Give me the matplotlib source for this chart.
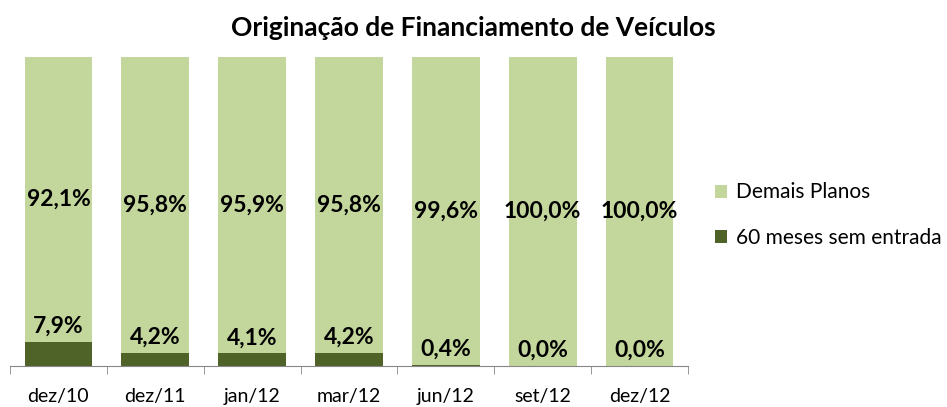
import matplotlib.pyplot as plt
import numpy as np

plt.rcParams['font.family'] = ['Lato', 'DejaVu Sans']

periodos = ["dez/10", "dez/11", "jan/12", "mar/12", "jun/12", "set/12", "dez/12"]
sem_entrada = [7.9, 4.2, 4.1, 4.2, 0.4, 0.0, 0.0]
demais = [92.1, 95.8, 95.9, 95.8, 99.6, 100.0, 100.0]

cor_demais = "#C3D69B"
cor_sem = "#4F6228"

fig = plt.figure(figsize=(9.47, 4.07), dpi=100)
ax = fig.add_axes([10 / 947, 41 / 407, 678 / 947, 309 / 407])

x = np.arange(len(periodos))
ax.bar(x, sem_entrada, width=0.7, color=cor_sem, label="60 meses sem entrada")
ax.bar(x, demais, width=0.7, bottom=sem_entrada, color=cor_demais, label="Demais Planos")

def fmt(v):
    return f"{v:.1f}%".replace(".", ",")

for xi, s, d in zip(x, sem_entrada, demais):
    # rótulo de cima no meio do segmento claro, o de baixo logo acima do escuro
    ax.text(xi, s + d / 2, fmt(d), ha="center", va="center", fontsize=16.5, fontweight="bold")
    ax.text(xi, s + 5, fmt(s), ha="center", va="center", fontsize=16.5, fontweight="bold")

ax.set_xlim(-0.5, len(periodos) - 0.5)
ax.set_ylim(0, 100)
ax.set_yticks([])
for lado in ["top", "right", "left"]:
    ax.spines[lado].set_visible(False)
ax.spines["bottom"].set_color("#868686")

ax.set_xticks(x)
ax.set_xticklabels(periodos, fontsize=14)
ax.tick_params(axis="x", which="major", length=0, pad=16)
ax.set_xticks(np.arange(len(periodos) + 1) - 0.5, minor=True)
ax.tick_params(axis="x", which="minor", length=6, color="#868686")

fig.text(0.5, 1 - 28 / 407, "Originação de Financiamento de Veículos",
         ha="center", va="center", fontsize=19, fontweight="bold")

handles, labels = ax.get_legend_handles_labels()
fig.legend(handles[::-1], labels[::-1], loc="center left",
           bbox_to_anchor=(696 / 947, 1 - 215 / 407), frameon=False,
           fontsize=15, handlelength=0.6, handleheight=0.6,
           handletextpad=0.4, labelspacing=1.2)

fig.savefig("out.png", dpi=100)
